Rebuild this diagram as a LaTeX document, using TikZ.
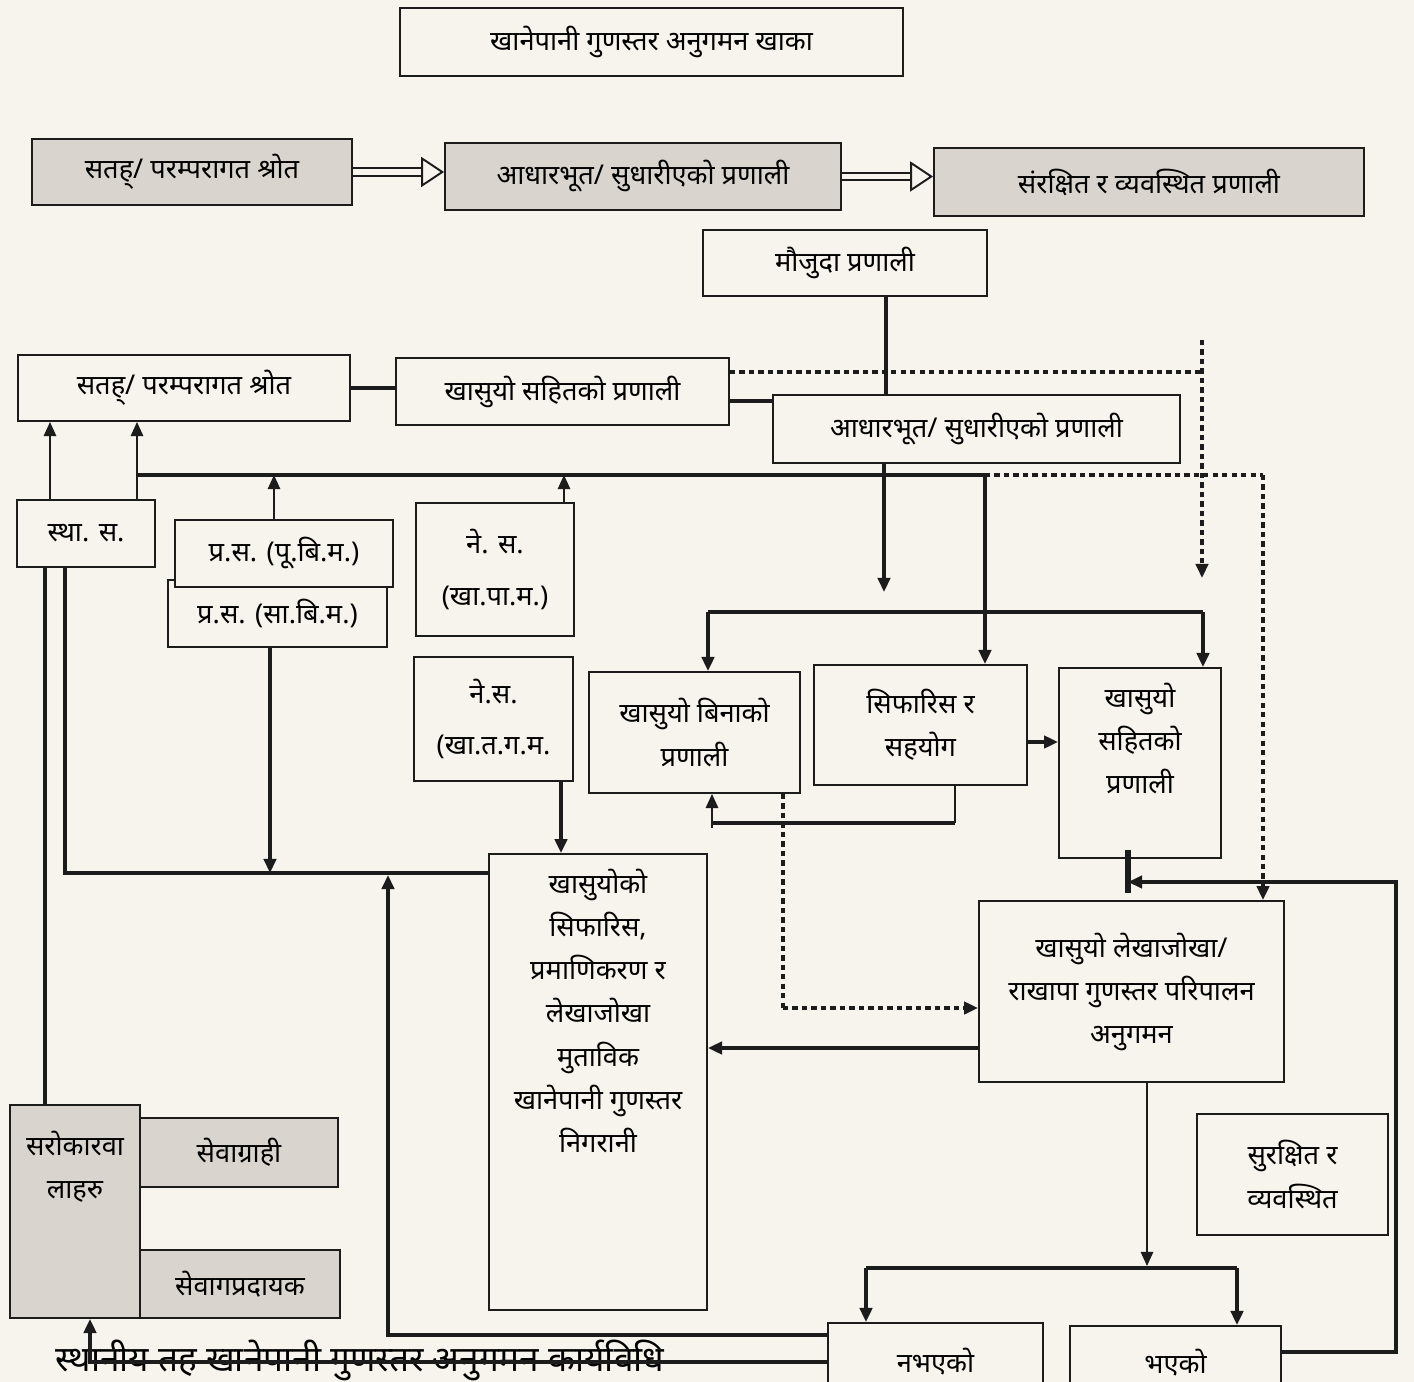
\documentclass[tikz,border=0pt]{standalone}
\usepackage{fontspec}
\setmainfont{Noto Sans}[Script=Devanagari]
\usetikzlibrary{arrows.meta,positioning}
\definecolor{ink}{HTML}{1C1C1C}
\definecolor{paper}{HTML}{F7F4EE}
\definecolor{shade}{HTML}{D9D5CE}
\newcommand{\boxfont}{\fontsize{15.5}{24.5}\selectfont}

\begin{document}
\begin{tikzpicture}[x=0.02cm,y=-0.02cm,
  box/.style={draw=ink,fill=paper,line width=1.1pt,inner sep=2pt,align=center,font=\boxfont},
  gbox/.style={box,fill=shade},
  txt/.style={inner sep=0pt,align=center,font=\boxfont},
  thk/.style={draw=ink,line width=2.2pt},
  thn/.style={draw=ink,line width=1.1pt},
  dot/.style={draw=ink,line width=2.4pt,dash pattern=on 3pt off 2.4pt},
  dbl/.style={draw=ink,double=paper,line width=1.1pt,double distance=3.2pt,
              -{Triangle[open,length=13pt,width=17pt,line width=1.1pt]}},
  >={Triangle[length=8pt,width=7pt]}
]
\useasboundingbox (0,0) rectangle (1414,1382);
\fill[paper] (0,0) rectangle (1414,1382);
\clip (0,0) rectangle (1414,1382);

% boxes
\node[box,minimum width=10.06cm,minimum height=1.36cm] (title) at (651.5,42) {खानेपानी गुणस्तर अनुगमन खाका};
\node[gbox,minimum width=6.4cm,minimum height=1.32cm] (src1) at (192,172) {सतह्/ परम्परागत श्रोत};
\node[gbox,minimum width=7.92cm,minimum height=1.34cm] (base1) at (643,176.5) {आधारभूत/ सुधारीएको प्रणाली};
\node[gbox,minimum width=8.6cm,minimum height=1.36cm] (safe1) at (1149,182) {संरक्षित र व्यवस्थित प्रणाली};
\node[box,minimum width=5.68cm,minimum height=1.32cm] (exist) at (845,263) {मौजुदा प्रणाली};
\node[box,minimum width=6.64cm,minimum height=1.32cm] (src2) at (184,388) {सतह्/ परम्परागत श्रोत};
\node[box,minimum width=6.66cm,minimum height=1.34cm] (withsys) at (562.5,391.5) {खासुयो सहितको प्रणाली};
\node[box,minimum width=8.14cm,minimum height=1.36cm] (base2) at (976.5,429) {आधारभूत/ सुधारीएको प्रणाली};
\node[box,minimum width=2.76cm,minimum height=1.34cm] (local) at (86,533.5) {स्था. स.};
\node[box,minimum width=4.38cm,minimum height=1.34cm] (prov2) at (277.5,613.5) {प्र.स. (सा.बि.म.)};
\node[box,minimum width=4.36cm,minimum height=1.34cm] (prov1) at (284,553.5) {प्र.स. (पू.बि.म.)};
\node[box,minimum width=3.16cm,minimum height=2.66cm] (fed1) at (495,569.5) {ने. स.\\[5pt](खा.पा.म.)};
\node[box,minimum width=3.18cm,minimum height=2.48cm] (fed2) at (493.5,719) {ने.स.\\[5pt](खा.त.ग.म.};
\node[box,minimum width=4.22cm,minimum height=2.42cm] (nosys) at (694.5,732.5) {खासुयो बिनाको\\प्रणाली};
\node[box,minimum width=4.26cm,minimum height=2.4cm] (advice) at (920.5,725) {सिफारिस र\\सहयोग};
\node[box,minimum width=3.24cm,minimum height=3.8cm] (hassys) at (1140,763) {};
\node[txt,below=0.32cm of hassys.north] (hassyst) {खासुयो\\सहितको\\प्रणाली};
\node[box,minimum width=4.36cm,minimum height=9.12cm] (watch) at (598,1082) {};
\node[txt,below=0.32cm of watch.north] (watcht) {खासुयोको\\सिफारिस,\\प्रमाणिकरण र\\लेखाजोखा\\मुताविक\\खानेपानी गुणस्तर\\निगरानी};
\node[box,minimum width=6.1cm,minimum height=3.62cm] (audit) at (1131.5,991.5) {खासुयो लेखाजोखा/\\राखापा गुणस्तर परिपालन\\अनुगमन};
\node[box,minimum width=3.82cm,minimum height=2.42cm] (safe2) at (1292.5,1174.5) {सुरक्षित र\\व्यवस्थित};
\node[gbox,minimum width=2.6cm,minimum height=4.26cm] (stake) at (75,1211.5) {};
\node[txt,below=0.54cm of stake.north] (staket) {सरोकारवा\\लाहरु};
\node[gbox,minimum width=3.96cm,minimum height=1.38cm] (users) at (239,1152.5) {सेवाग्राही};
\node[gbox,minimum width=4cm,minimum height=1.36cm] (providers) at (240,1284) {सेवागप्रदायक};
\node[box,minimum width=4.3cm,minimum height=1.54cm] (notmet) at (935.5,1361.5) {नभएको};
\node[box,minimum width=4.22cm,minimum height=1.48cm] (met) at (1175.5,1363) {भएको};
\node[txt,font=\fontsize{20}{24}\selectfont] (footer) at (360,1360) {स्थानीय तह खानेपानी गुणस्तर अनुगमन कार्यविधि};

% junctions
\coordinate (busL) at (137,475);
\coordinate (busR) at (985,475);
\coordinate (dotR) at (1263,475);
\coordinate (dotTop) at (1202,340);
\coordinate (dotEnd) at (1202,578);
\coordinate (downEnd) at (884,592);
\coordinate (splitL) at (708,612);
\coordinate (splitR) at (1203,612);
\coordinate (loopL) at (65,873);
\coordinate (tickTop) at (1128,850);
\coordinate (tickBot) at (1128,893);
\coordinate (forkL) at (866,1268);
\coordinate (forkR) at (1237,1268);

% top row
\draw[dbl] (src1.east) -- (src1.east -| base1.west);
\draw[dbl] (base1.east) -- (base1.east -| safe1.west);

% upper system row
\draw[thk] (exist.south -| 886,0) -- (886,0 |- base2.north);
\draw[thk] (src2.east) -- (src2.east -| withsys.west);
\draw[thk] (withsys.east |- 0,401) -- (base2.west |- 0,401);
\draw[dot] (withsys.east |- 0,372) -- (dotTop |- 0,372);
\draw[dot,->] (dotTop) -- (dotEnd);
\draw[thk,->] (downEnd |- base2.south) -- (downEnd);

% bus line
\draw[thk] (busL) -- (busR);
\draw[thk,->] (busR) -- (busR |- advice.north);
\draw[dot] (busR) -- (dotR);
\draw[dot,->] (dotR) -- (dotR |- audit.north);
\draw[thn,->] (50,0 |- local.north) -- (50,0 |- src2.south);
\draw[thn,->] (busL |- local.north) -- (busL |- src2.south);
\draw[thn,->] (274,0 |- prov1.north) -- (274,0 |- busL);
\draw[thn,->] (564,0 |- fed1.north) -- (564,0 |- busL);

% left loop
\draw[thk,->] (561,0 |- fed2.south) -- (561,0 |- watch.north);
\draw[thk] (watch.west |- loopL) -- (loopL) -- (loopL |- local.south);
\draw[thk,->] (270,0 |- prov2.south) -- (270,0 |- loopL);
\draw[thk] (45,0 |- stake.north) -- (45,0 |- local.south);
\draw[thk,->] (notmet.west |- 0,1335) -- (388,1335) -- (388,875);
\draw[thk,->] (notmet.west |- 0,1362) -- (90,1362) -- (90,0 |- stake.south);

% middle block
\draw[thk] (splitL) -- (splitR);
\draw[thk,->] (splitL) -- (splitL |- nosys.north);
\draw[thk,->] (splitR) -- (splitR |- hassys.north);
\draw[thk,->] (advice.east |- 0,742) -- (hassys.west |- 0,742);
\draw[thn] (955,0 |- advice.south) -- (955,823);
\draw[thk] (955,823) -- (712,823);
\draw[thn,->] (712,828) -- (712,0 |- nosys.south);
\draw[dot] (783,0 |- nosys.south) -- (783,1008);
\draw[dot,->] (783,1008) -- (audit.west |- 0,1008);
\draw[thk,->] (audit.west |- 0,1048) -- (watch.east |- 0,1048);

% right loop
\draw[draw=ink,line width=3pt] (tickTop) -- (tickBot);
\draw[thk,->] (met.east |- 0,1352) -- (1396,1352) -- (1396,882) -- (tickTop |- 0,882);
\draw[thn,->] (1147,0 |- audit.south) -- (1147,1266);
\draw[thk] (forkL) -- (forkR);
\draw[thk,->] (forkL) -- (forkL |- notmet.north);
\draw[thk,->] (forkR) -- (forkR |- met.north);
\end{tikzpicture}
\end{document}
